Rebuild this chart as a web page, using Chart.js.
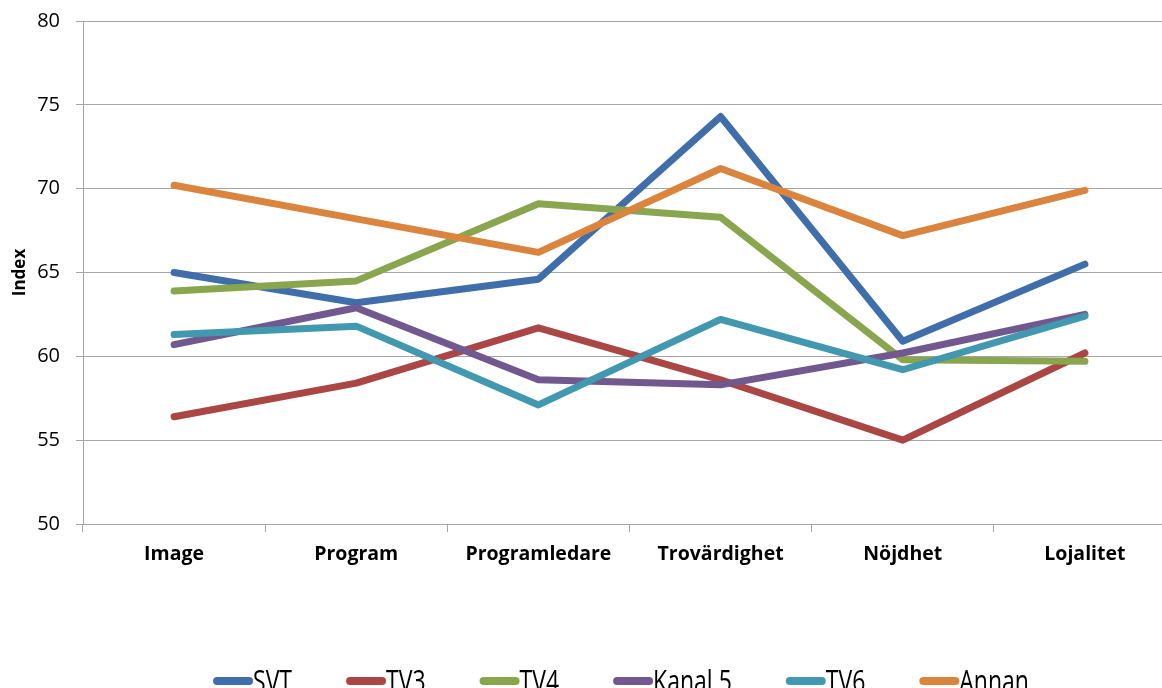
<!DOCTYPE html>
<html>
<head>
<meta charset="utf-8">
<script src="https://cdn.jsdelivr.net/npm/chart.js@4"></script>
<style>
  html, body { margin: 0; padding: 0; background: #fff; overflow: hidden; }
  /* plottytan går ut förbi fönstrets högerkant, som i originalet */
  #wrap { width: 1176px; height: 688px; position: relative; }
</style>
</head>
<body>
<div id="wrap"><canvas id="myChart"></canvas></div>
<script>
// Kategorier och värden
var kategorier = ['Image', 'Program', 'Programledare', 'Trovärdighet', 'Nöjdhet', 'Lojalitet'];
var serieNamn = ['SVT', 'TV3', 'TV4', 'Kanal 5', 'TV6', 'Annan'];
var svt = [65.0, 63.2, 64.6, 74.3, 60.9, 65.5];
var tv3 = [56.4, 58.4, 61.7, 58.6, 55.0, 60.2];
var tv4 = [63.9, 64.5, 69.1, 68.3, 59.8, 59.7];
var kanal5 = [60.7, 62.9, 58.6, 58.3, 60.2, 62.5];
var tv6 = [61.3, 61.8, 57.1, 62.2, 59.2, 62.4];
var annan = [70.2, 68.2, 66.2, 71.2, 67.2, 69.9];
var yTicks = [50, 55, 60, 65, 70, 75, 80];

var farger = ['#3F6EAA', '#AA4643', '#89A54E', '#71588F', '#4198AF', '#DB843D'];
var serier = [svt, tv3, tv4, kanal5, tv6, annan];

var datasets = serier.map(function (data, i) {
    return {
        label: serieNamn[i],
        data: data,
        borderColor: farger[i],
        backgroundColor: farger[i],
        borderWidth: 7,
        pointRadius: 0,
        pointHoverRadius: 0,
        tension: 0,
        borderCapStyle: 'round',
        borderJoinStyle: 'round',
        order: serier.length - i // senare serier ritas överst
    };
});

// Egen legend längst ner (linjesymbol direkt följd av text)
var bottenLegend = {
    id: 'bottenLegend',
    afterDraw: function (chart) {
        var ctx = chart.ctx;
        ctx.save();
        ctx.font = '23px "Open Sans"';
        var sw = 40, gap = 54, mitt = 621;
        var items = chart.data.datasets.map(function (ds) {
            return { label: ds.label, color: ds.borderColor, w: sw + ctx.measureText(ds.label).width };
        });
        var total = items.reduce(function (s, it) { return s + it.w; }, 0) + gap * (items.length - 1);
        var x = mitt - total / 2;
        var y = 681;
        items.forEach(function (it) {
            ctx.strokeStyle = it.color;
            ctx.lineWidth = 8;
            ctx.lineCap = 'round';
            ctx.beginPath();
            ctx.moveTo(x + 4, y);
            ctx.lineTo(x + sw - 4, y);
            ctx.stroke();
            // texten är smal och hög i originalet
            ctx.save();
            ctx.translate(x + sw, 692);
            ctx.scale(1, 1.35);
            ctx.fillStyle = '#000';
            ctx.textAlign = 'left';
            ctx.textBaseline = 'alphabetic';
            ctx.fillText(it.label, 0, 0);
            ctx.restore();
            x += it.w + gap;
        });
        ctx.restore();
    }
};

var ctx = document.getElementById('myChart').getContext('2d');
var myChart = new Chart(ctx, {
    type: 'line',
    data: { labels: kategorier, datasets: datasets },
    plugins: [bottenLegend],
    options: {
        responsive: true,
        maintainAspectRatio: false,
        animation: false,
        layout: { padding: { top: 21, right: 0, bottom: 0, left: 0 } },
        plugins: {
            legend: { display: false },
            tooltip: { enabled: false }
        },
        scales: {
            x: {
                offset: true,
                grid: {
                    offset: true,
                    drawOnChartArea: false,
                    drawTicks: true,
                    tickLength: 8,
                    color: '#a6a6a6'
                },
                border: { color: '#a6a6a6', width: 1 },
                ticks: {
                    color: '#000',
                    padding: 11,
                    maxRotation: 0,
                    font: { family: 'Open Sans', size: 19.5, weight: 'bold' }
                },
                afterFit: function (scale) { scale.height = 164; }
            },
            y: {
                min: 50,
                max: 80,
                afterBuildTicks: function (scale) {
                    scale.ticks = yTicks.map(function (v) { return { value: v }; });
                },
                grid: {
                    color: '#a6a6a6',
                    tickLength: 7,
                    drawTicks: true
                },
                border: { color: '#a6a6a6', width: 1 },
                ticks: {
                    color: '#000',
                    padding: 16,
                    font: { family: 'Open Sans', size: 20 }
                },
                title: {
                    display: true,
                    text: 'Index',
                    color: '#000',
                    padding: { top: 10, bottom: 0 },
                    font: { family: 'Open Sans', size: 17, weight: 'bold' }
                },
                afterFit: function (scale) {
                    scale.width = 83;
                    scale.paddingTop = 0;
                    scale.paddingBottom = 0;
                }
            }
        }
    }
});
</script>
</body>
</html>
